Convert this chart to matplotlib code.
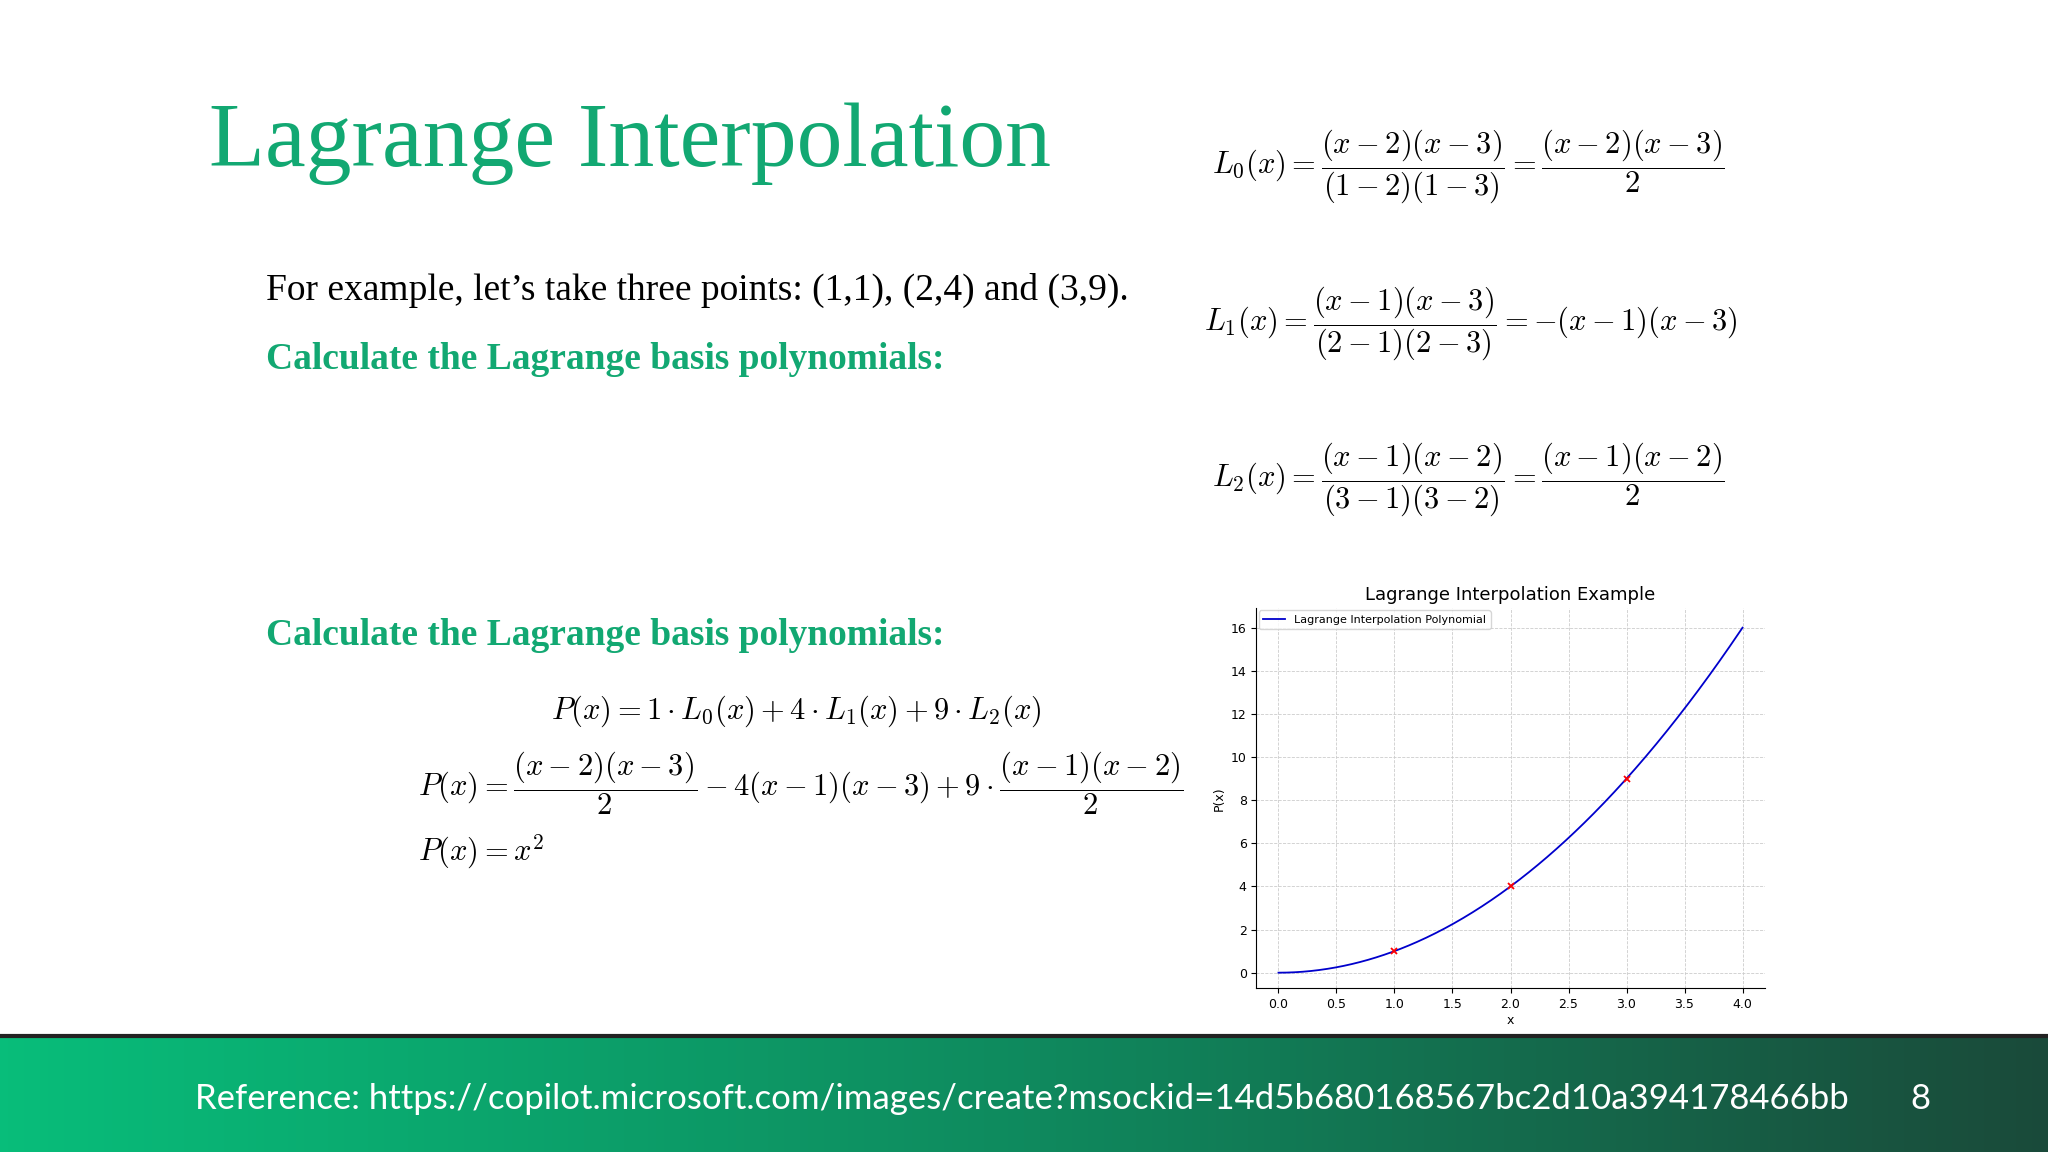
import numpy as np
import matplotlib
matplotlib.use("Agg")
import matplotlib.pyplot as plt
from matplotlib.colors import LinearSegmentedColormap

px = [1, 2, 3]
py = [1, 4, 9]
xticks = [0.0, 0.5, 1.0, 1.5, 2.0, 2.5, 3.0, 3.5, 4.0]
yticks = [0, 2, 4, 6, 8, 10, 12, 14, 16]

GREEN = "#12a872"
plt.rcParams['mathtext.fontset'] = 'cm'
fig = plt.figure(figsize=(20.48, 11.52), dpi=100)
fig.patch.set_facecolor("white")

# footer gradient
fax = fig.add_axes([0, 0, 1, 0.101])
cmap = LinearSegmentedColormap.from_list("g", ["#08bd7a", "#0f8a5e", "#1a4a3a"])
fax.imshow(np.linspace(0, 1, 256)[None, :], aspect="auto", cmap=cmap, extent=[0, 1, 0, 1])
fax.axis("off")
fig.add_artist(plt.Line2D([0, 1], [0.101, 0.101], color="#222222", lw=3))
fig.text(0.095, 0.046, "Reference: https://copilot.microsoft.com/images/create?msockid=14d5b680168567bc2d10a394178466bb",
         color="white", fontsize=25, family="Lato", va="center")
fig.text(0.9375, 0.046, "8", color="white", fontsize=25, family="Lato", va="center", ha="center")

fig.text(0.102, 0.875, "Lagrange Interpolation", color=GREEN, fontsize=66, family="Liberation Serif", va="center")
fig.text(0.130, 0.748, "For example, let\u2019s take three points: (1,1), (2,4) and (3,9).",
         fontsize=27, family="Liberation Serif", va="center")
fig.text(0.130, 0.688, "Calculate the Lagrange basis polynomials:", color=GREEN, fontsize=27,
         family="Liberation Serif", weight="bold", va="center")
fig.text(0.130, 0.448, "Calculate the Lagrange basis polynomials:", color=GREEN, fontsize=27,
         family="Liberation Serif", weight="bold", va="center")

fs = 22
fig.text(0.592, 0.855, r"$L_0(x) = \dfrac{(x-2)(x-3)}{(1-2)(1-3)} = \dfrac{(x-2)(x-3)}{2}$", fontsize=fs, va="center")
fig.text(0.588, 0.719, r"$L_1(x) = \dfrac{(x-1)(x-3)}{(2-1)(2-3)} = -(x-1)(x-3)$", fontsize=fs, va="center")
fig.text(0.592, 0.583, r"$L_2(x) = \dfrac{(x-1)(x-2)}{(3-1)(3-2)} = \dfrac{(x-1)(x-2)}{2}$", fontsize=fs, va="center")
fig.text(0.389, 0.383, r"$P(x) = 1\cdot L_0(x) + 4\cdot L_1(x) + 9\cdot L_2(x)$", fontsize=fs, va="center", ha="center")
fig.text(0.204, 0.320, r"$P(x) = \dfrac{(x-2)(x-3)}{2} - 4(x-1)(x-3) + 9\cdot\dfrac{(x-1)(x-2)}{2}$", fontsize=fs, va="center")
fig.text(0.204, 0.261, r"$P(x) = x^2$", fontsize=fs, va="center")

# chart
ax = fig.add_axes([0.6135, 0.142, 0.2481, 0.330])
xs = np.linspace(0, 4, 400)
def lag(x):
    tot = 0
    for i in range(len(px)):
        t = py[i]
        for j in range(len(px)):
            if j != i:
                t = t * (x - px[j]) / (px[i] - px[j])
        tot = tot + t
    return tot
ax.plot(xs, lag(xs), color="#0000cc", lw=1.3, label="Lagrange Interpolation Polynomial")
ax.plot(px, py, "x", color="red", ms=5, mew=1.3)
ax.set_xlim(-0.19, 4.19)
ax.set_ylim(-0.73, 16.9)
ax.set_xticks(xticks)
ax.set_yticks(yticks)
ax.tick_params(labelsize=9)
ax.grid(True, ls="--", lw=0.6, color="#cccccc")
for s in ["top", "right"]:
    ax.spines[s].set_visible(False)
ax.set_title("Lagrange Interpolation Example", fontsize=13)
ax.set_xlabel("x", fontsize=9, labelpad=2)
ax.set_ylabel("P(x)", fontsize=9)
ax.legend(loc="upper left", fontsize=8, borderaxespad=0.2, handlelength=2)

fig.savefig("out.png", dpi=100)
